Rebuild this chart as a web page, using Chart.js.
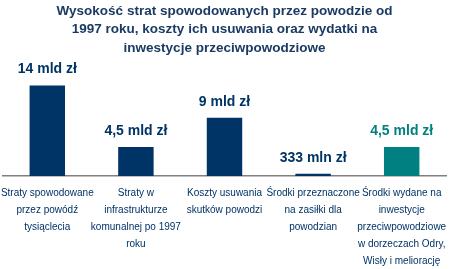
<!DOCTYPE html>
<html>
<head>
<meta charset="utf-8">
<script src="https://cdn.jsdelivr.net/npm/chart.js@4"></script>
<style>
html,body{margin:0;padding:0;background:#fff;}
#wrap{width:451px;height:269px;}
</style>
</head>
<body>
<div id="wrap"><canvas id="c" width="451" height="269"></canvas></div>
<script>
const categories = [
  ["Straty spowodowane", "przez powódź", "tysiąclecia"],
  ["Straty w", "infrastrukturze", "komunalnej po 1997", "roku"],
  ["Koszty usuwania", "skutków powodzi"],
  ["Środki przeznaczone", "na zasiłki dla", "powodzian"],
  ["Środki wydane na", "inwestycje", "przeciwpowodziowe", "w dorzeczach Odry,", "Wisły i meliorację"]
];
const values = [14, 4.5, 9, 0.333, 4.5];
const valueLabels = ["14 mld zł", "4,5 mld zł", "9 mld zł", "333 mln zł", "4,5 mld zł"];
const titleLines = [
  "Wysokość strat spowodowanych przez powodzie od",
  "1997 roku, koszty ich usuwania oraz wydatki na",
  "inwestycje przeciwpowodziowe"
];

const NAVY = "#003366";
const TEAL = "#008080";
const barColors = [NAVY, NAVY, NAVY, NAVY, TEAL];

const valueLabelPlugin = {
  id: "valueLabels",
  afterDatasetsDraw(chart) {
    const ctx = chart.ctx;
    const meta = chart.getDatasetMeta(0);
    ctx.save();
    ctx.font = "bold 14px 'Liberation Sans', Arial, sans-serif";
    ctx.textAlign = "center";
    ctx.textBaseline = "bottom";
    meta.data.forEach((bar, i) => {
      ctx.fillStyle = barColors[i];
      ctx.fillText(valueLabels[i], bar.x, bar.y - 9);
    });
    ctx.restore();
  }
};

new Chart(document.getElementById("c"), {
  type: "bar",
  data: {
    labels: categories,
    datasets: [{
      data: values,
      backgroundColor: barColors,
      borderWidth: 0,
      barPercentage: 0.5,
      categoryPercentage: 0.8
    }]
  },
  options: {
    responsive: false,
    animation: false,
    devicePixelRatio: 1,
    layout: { padding: { left: 3, right: 5, top: 0, bottom: 0 } },
    plugins: {
      legend: { display: false },
      tooltip: { enabled: false },
      title: {
        display: true,
        text: titleLines,
        color: "#1b3a64",
        font: { family: "'Liberation Sans', Arial, sans-serif", size: 13.5, weight: "bold", lineHeight: "18.5px" },
        padding: { top: 2, bottom: 4 }
      }
    },
    scales: {
      y: {
        display: false,
        min: 0,
        max: 17.7
      },
      x: {
        grid: { display: false, drawTicks: false },
        border: { display: true, color: "#808080", width: 1.5 },
        afterFit(scale) { scale.paddingLeft = 0; scale.paddingRight = 0; scale.height = 93; },
        ticks: {
          color: NAVY,
          maxRotation: 0,
          autoSkip: false,
          padding: 9,
          font: { family: "'Liberation Sans', Arial, sans-serif", size: 10, lineHeight: "17px" }
        }
      }
    }
  },
  plugins: [valueLabelPlugin]
});
</script>
</body>
</html>
